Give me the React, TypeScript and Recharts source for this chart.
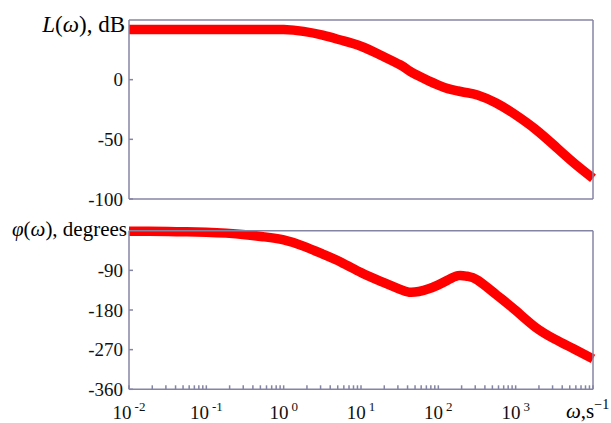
import { LineChart, Line, XAxis, YAxis } from 'recharts'

// frequency points, s^-1 (roughly quarter-decade steps, finer around the bump)
const omega = [
  0.01, 0.018, 0.032, 0.056, 0.1, 0.18, 0.32, 0.56, 1, 1.8, 3.2, 5.6, 10, 18, 32, 42, 56, 75, 100, 133, 180,
  237, 320, 560, 1000, 1800, 3200, 5600, 10000,
]
// magnitude, dB
const magnitude = [
  42, 42, 42, 42, 42, 42, 42, 42, 42, 40.5, 37.3, 33, 28, 20.5, 12.5, 7.5, 3, -1, -4.5, -7.5, -9.5, -11,
  -12.8, -19.5, -29.5, -41.5, -55.5, -69.5, -82.6,
]
// phase, degrees
const phase = [
  -1, -1.5, -2, -2.5, -3.5, -5.5, -9, -14, -21, -35, -53, -72, -95, -115, -133, -139.5, -138, -132, -123,
  -112, -102, -103.5, -112, -145, -181, -219, -246, -268, -291,
]

const magTicks = [-100, -50, 0]
const magTicksRight = [-50, 0]
const phaseTicks = [-360, -270, -180, -90]
const phaseTicksRight = [-270, -180, -90]

const decades = [-2, -1, 0, 1, 2, 3]
const logTicks: number[] = []
decades.forEach((d) => {
  for (let m = 1; m <= 9; m++) logTicks.push(+(m * Math.pow(10, d)).toPrecision(3))
})
logTicks.push(10000)

const magData = omega.map((w, i) => ({ w, v: magnitude[i] }))
const phaseData = omega.map((w, i) => ({ w, v: phase[i] }))

const AXIS = '#8484a4'
const RED = '#ff0000'
const FONT = 'Liberation Serif'
const tickStyle = { fill: '#111', fontSize: 19, fontFamily: FONT }

function DecadeTick(props: any) {
  const { x, y, payload } = props
  const v = payload.value
  const e = Math.log10(v)
  const r = Math.round(e)
  if (Math.abs(e - r) > 1e-6 || r === 4) return <g />
  return (
    <text x={x} y={y} textAnchor="middle" fontFamily={FONT} fontSize={19} fill="#111">
      <tspan>10</tspan>
      <tspan dx={3} dy={-8} fontSize={13}>
        {r}
      </tspan>
    </text>
  )
}

function Frame(props: {
  data: { w: number; v: number }[]
  domain: [number, number]
  ticks: number[]
  ticksRight: number[]
  height: number
  margin: { top: number; right: number; bottom: number; left: number }
  bottomHeight: number
  labels: boolean
}) {
  const { data, domain, ticks, ticksRight, height, margin, bottomHeight, labels } = props
  return (
    <LineChart width={611} height={height} data={data} margin={margin}>
      <XAxis
        xAxisId="t"
        orientation="top"
        dataKey="w"
        type="number"
        scale="log"
        domain={[0.01, 10000]}
        ticks={logTicks}
        interval={0}
        tick={false}
        tickSize={-4}
        height={1}
        stroke={AXIS}
        strokeWidth={1.5}
      />
      <XAxis
        xAxisId="b"
        dataKey="w"
        type="number"
        scale="log"
        domain={[0.01, 10000]}
        ticks={logTicks}
        interval={0}
        tick={labels ? DecadeTick : false}
        tickSize={-4}
        tickMargin={34}
        height={bottomHeight}
        stroke={AXIS}
        strokeWidth={1.5}
      />
      <YAxis
        yAxisId="l"
        type="number"
        domain={domain}
        ticks={ticks}
        interval={0}
        tickSize={-4}
        tickMargin={10}
        width={129}
        tick={tickStyle}
        stroke={AXIS}
        strokeWidth={1.5}
      />
      <YAxis
        yAxisId="r"
        orientation="right"
        type="number"
        domain={domain}
        ticks={ticksRight}
        interval={0}
        tick={false}
        tickSize={-4}
        width={1}
        stroke={AXIS}
        strokeWidth={1.5}
      />
      <Line
        xAxisId="b"
        yAxisId="l"
        dataKey="v"
        type="natural"
        stroke={RED}
        strokeWidth={9.5}
        dot={false}
        isAnimationActive={false}
      />
    </LineChart>
  )
}

export default function App() {
  return (
    <div style={{ position: 'absolute', left: 0, top: 0, width: 611, height: 423, background: '#fff' }}>
      <div style={{ position: 'absolute', left: 0, top: 0 }}>
        <Frame
          data={magData}
          domain={[-100, 50]}
          ticks={magTicks}
          ticksRight={magTicksRight}
          height={210}
          margin={{ top: 19, right: 17, bottom: 10, left: 0 }}
          bottomHeight={1}
          labels={false}
        />
      </div>
      <div style={{ position: 'absolute', left: 0, top: 210 }}>
        <Frame
          data={phaseData}
          domain={[-360, 0]}
          ticks={phaseTicks}
          ticksRight={phaseTicksRight}
          height={213}
          margin={{ top: 19.7, right: 17, bottom: 0, left: 0 }}
          bottomHeight={33.7}
          labels={true}
        />
      </div>
      <svg
        width={611}
        height={423}
        style={{ position: 'absolute', left: 0, top: 0, pointerEvents: 'none' }}
        fontFamily={FONT}
        fill="#000"
      >
        <text x={125} y={32} textAnchor="end" fontSize={23}>
          <tspan fontStyle="italic">L</tspan>
          <tspan>(</tspan>
          <tspan fontStyle="italic">ω</tspan>
          <tspan>), dB</tspan>
        </text>
        <text x={127} y={236} textAnchor="end" fontSize={21}>
          <tspan fontStyle="italic">φ</tspan>
          <tspan>(</tspan>
          <tspan fontStyle="italic">ω</tspan>
          <tspan>), degrees</tspan>
        </text>
        <text x={566} y={418} fontSize={21}>
          <tspan fontStyle="italic">ω</tspan>
          <tspan>,s</tspan>
          <tspan dy={-9} fontSize={14}>
            −1
          </tspan>
        </text>
      </svg>
    </div>
  )
}
